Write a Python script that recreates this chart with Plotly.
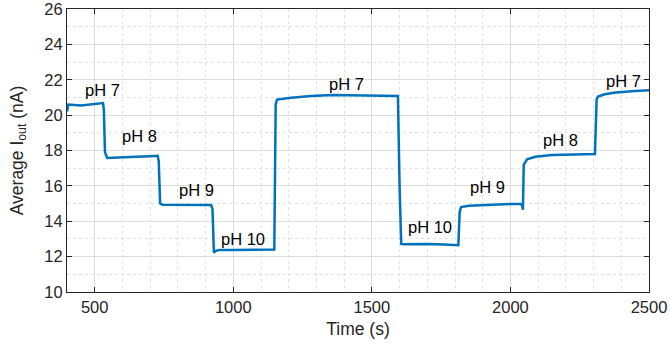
import plotly.graph_objects as go

time_s = [400, 405, 450, 500, 530, 533, 537, 545, 600, 650, 700, 727, 731, 736, 745, 800, 860, 920, 925, 930, 936, 950, 1000, 1050, 1100, 1148, 1153, 1158, 1200, 1280, 1360, 1450, 1520, 1594, 1600, 1606, 1615, 1700, 1760, 1812, 1817, 1822, 1850, 1900, 1950, 2000, 2037, 2042, 2045, 2048, 2060, 2090, 2150, 2230, 2305, 2311, 2316, 2340, 2380, 2450, 2500]
current_nA = [20.2, 20.6, 20.55, 20.62, 20.68, 20.3, 17.9, 17.58, 17.6, 17.65, 17.68, 17.7, 17.4, 15.0, 14.93, 14.92, 14.93, 14.92, 14.7, 12.22, 12.32, 12.38, 12.37, 12.38, 12.38, 12.4, 20.6, 20.88, 20.97, 21.08, 21.14, 21.12, 21.12, 21.08, 16.0, 12.72, 12.7, 12.72, 12.68, 12.65, 14.55, 14.8, 14.88, 14.92, 14.95, 14.97, 14.97, 14.9, 14.65, 17.2, 17.5, 17.65, 17.75, 17.78, 17.8, 20.9, 21.05, 21.18, 21.28, 21.36, 21.4]

label_text = ["pH 7", "pH 8", "pH 9", "pH 10", "pH 7", "pH 10", "pH 9", "pH 8", "pH 7"]
label_t = [529, 661, 868, 1034, 1407, 1710, 1917, 2180, 2408]
label_y = [21.42, 18.82, 15.77, 13.0, 21.76, 13.67, 15.93, 18.6, 21.95]

FONT = "Liberation Sans, Arial"

fig = go.Figure()
fig.add_trace(go.Scatter(x=time_s, y=current_nA, mode="lines",
                         line=dict(color="#0072BD", width=2.5), showlegend=False))

for txt, tx, ty in zip(label_text, label_t, label_y):
    fig.add_annotation(x=tx, y=ty, text=txt, showarrow=False,
                       font=dict(family=FONT, size=16.5, color="#000000"))

axis_common = dict(
    showline=True, linecolor="#262626", linewidth=1, mirror="ticks",
    ticks="inside", ticklen=5, tickcolor="#262626",
    showgrid=True, gridcolor="#DCDCDC", gridwidth=1,
    zeroline=False, automargin=False, ticklabeloverflow="allow",
    tickfont=dict(family=FONT, size=16.5, color="#262626"),
)

fig.update_xaxes(**axis_common, range=[400, 2500], tick0=500, dtick=500,
                 minor=dict(dtick=100, tick0=400, showgrid=True, gridcolor="#E0E0E0",
                            griddash="dot", gridwidth=1, ticks=""),
                 title=dict(text="Time (s)", standoff=7,
                            font=dict(family=FONT, size=17.5, color="#262626")))
fig.update_yaxes(**axis_common, range=[10, 26], tick0=10, dtick=2,
                 minor=dict(dtick=1, showgrid=True, gridcolor="#E0E0E0",
                            griddash="dot", gridwidth=1, ticks=""),
                 title=dict(text="Average I<sub>out</sub> (nA)", standoff=16,
                            font=dict(family=FONT, size=17.5, color="#262626")))

fig.update_layout(width=670, height=349, margin=dict(l=67, r=21, t=9, b=57, autoexpand=False),
                  plot_bgcolor="white", paper_bgcolor="white")

fig.write_html("out.html")
